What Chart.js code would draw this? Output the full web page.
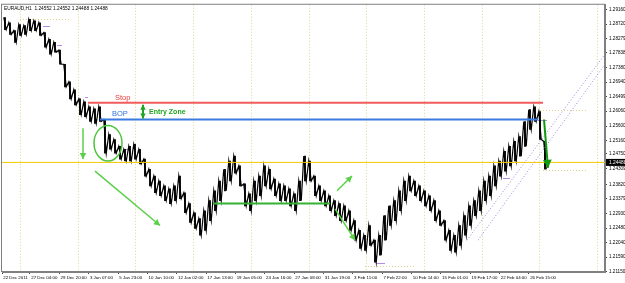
<!DOCTYPE html>
<html>
<head>
<meta charset="utf-8">
<script src="https://cdn.jsdelivr.net/npm/chart.js@4.4.1/dist/chart.umd.min.js"></script>
<style>
  html, body { margin: 0; padding: 0; background: #fff; }
  canvas { display: block; }
</style>
</head>
<body>
<canvas id="myChart" width="625" height="283"></canvas>
<script>
const ctx = document.getElementById("myChart").getContext("2d");

// chart header and bid
const symbolInfo = "EURAUD,H1  1.24552 1.24552 1.24488 1.24488";
const lastPrice = 1.24488;

// time axis labels (one every few bars)
const timeLabels = [
    "22 Dec 2011", "27 Dec 04:00", "29 Dec 20:00", "3 Jan 07:00", "5 Jan 23:00",
    "10 Jan 10:00", "12 Jan 02:00", "17 Jan 13:00", "19 Jan 05:00", "24 Jan 16:00",
    "27 Jan 08:00", "31 Jan 19:00", "3 Feb 11:00", "7 Feb 22:00", "10 Feb 14:00",
    "15 Feb 01:00", "19 Feb 17:00", "22 Feb 04:00", "26 Feb 15:00",
];

// price axis labels
const priceLabels = [
    "1.29160", "1.28720", "1.28279", "1.27838", "1.27380", "1.26940", "1.26499",
    "1.26060", "1.25600", "1.25160", "1.24750", "1.24309", "1.23820", "1.23379",
    "1.22930", "1.22480", "1.22040", "1.21590", "1.21150",
];

// highs / lows of the H1 bars, sampled every few bars
const highs = [
    1.2892, 1.2876, 1.2852, 1.2870, 1.2867, 1.2886, 1.2882, 1.2876, 1.2846, 1.2825,
    1.2816, 1.2792, 1.2749, 1.2695, 1.2671, 1.2643, 1.2634, 1.2619, 1.2613, 1.2619,
    1.2580, 1.2534, 1.2519, 1.2498, 1.2489, 1.2498, 1.2504, 1.2489, 1.2459, 1.2428,
    1.2407, 1.2392, 1.2377, 1.2368, 1.2377, 1.2407, 1.2356, 1.2323, 1.2295, 1.2277,
    1.2301, 1.2332, 1.2362, 1.2392, 1.2428, 1.2453, 1.2468, 1.2438, 1.2383, 1.2353,
    1.2392, 1.2407, 1.2438, 1.2428, 1.2398, 1.2383, 1.2377, 1.2368, 1.2353, 1.2392,
    1.2468, 1.2453, 1.2407, 1.2377, 1.2362, 1.2347, 1.2332, 1.2323, 1.2316, 1.2301,
    1.2271, 1.2241, 1.2226, 1.2256, 1.2211, 1.2226, 1.2286, 1.2316, 1.2332, 1.2362,
    1.2392, 1.2407, 1.2392, 1.2377, 1.2362, 1.2347, 1.2332, 1.2301, 1.2271, 1.2241,
    1.2226, 1.2256, 1.2286, 1.2316, 1.2332, 1.2362, 1.2392, 1.2407, 1.2438, 1.2453,
    1.2483, 1.2498, 1.2513, 1.2528, 1.2574, 1.2610, 1.2619, 1.2604, 1.2513,
];
const lows = [
    1.2855, 1.2840, 1.2816, 1.2837, 1.2840, 1.2852, 1.2852, 1.2837, 1.2801, 1.2780,
    1.2786, 1.2749, 1.2680, 1.2643, 1.2625, 1.2595, 1.2589, 1.2574, 1.2568, 1.2574,
    1.2477, 1.2489, 1.2477, 1.2459, 1.2453, 1.2453, 1.2459, 1.2444, 1.2407, 1.2377,
    1.2356, 1.2347, 1.2332, 1.2323, 1.2332, 1.2338, 1.2295, 1.2265, 1.2247, 1.2226,
    1.2241, 1.2271, 1.2301, 1.2332, 1.2362, 1.2392, 1.2416, 1.2377, 1.2316, 1.2301,
    1.2332, 1.2347, 1.2377, 1.2368, 1.2347, 1.2332, 1.2332, 1.2316, 1.2301, 1.2332,
    1.2392, 1.2392, 1.2347, 1.2332, 1.2316, 1.2301, 1.2286, 1.2271, 1.2271, 1.2241,
    1.2211, 1.2186, 1.2180, 1.2195, 1.2144, 1.2165, 1.2211, 1.2256, 1.2271, 1.2301,
    1.2332, 1.2362, 1.2347, 1.2332, 1.2316, 1.2301, 1.2271, 1.2256, 1.2211, 1.2180,
    1.2174, 1.2195, 1.2226, 1.2256, 1.2286, 1.2301, 1.2332, 1.2347, 1.2377, 1.2407,
    1.2422, 1.2438, 1.2453, 1.2468, 1.2498, 1.2550, 1.2574, 1.2519, 1.2428,
];

// drawn objects: [xFrom, xTo, priceFrom, priceTo]
const stopLine = [17.6, 108.6, 1.2631, 1.2631];
const bopLine = [20, 107.6, 1.2580, 1.2580];
const rangeLine = [42.6, 66, 1.2323, 1.2323];
const channelUpper = [93.4, 121, 1.2211, 1.2780];
const channelLower = [95.6, 121, 1.2211, 1.2749];

// arrows: [xFrom, priceFrom, xTo, priceTo]
const lightArrows = [
    [16.6, 1.2553, 16.6, 1.2459],
    [19, 1.2422, 32, 1.2256],
    [67, 1.2307, 71, 1.2211],
    [67.4, 1.2362, 70.4, 1.2407],
];
const exitArrow = [108.8, 1.2580, 109.6, 1.2432];
const zoneArrow = [28.6, 1.2625, 28.6, 1.2583];
// circled bars: [xFrom, xTo, priceTop, priceBottom]
const circleBox = [18.8, 24.4, 1.2562, 1.2453];

// little indicator levels: [xFrom, xTo, price]
const yellowMarks = [
    [4, 14, 1.2886], [108, 117.6, 1.2610], [108.6, 117.6, 1.2425], [73, 83, 1.2132],
];
const violetMarks = [
    [8.6, 10, 1.2867], [11.4, 12.4, 1.2807], [17, 17.6, 1.2649], [25, 26, 1.2489],
    [107.6, 109.4, 1.2580], [75.4, 77, 1.2141], [100.6, 102, 1.2401],
];

const pricePath = [];
const priceRanges = [];
highs.forEach((h, i) => {
    pricePath.push({ x: i + 0.75, y: h });
    pricePath.push({ x: i + 1.25, y: lows[i] });
    priceRanges.push({ x: i + 1, y: [lows[i], h] });
});

const seg = (s, color, width, dash) => ({
    data: [{ x: s[0], y: s[2] }, { x: s[1], y: s[3] }],
    borderColor: color,
    borderWidth: width,
    borderDash: dash || [],
    pointRadius: 0,
    order: 1,
});

function drawArrow(c, x1, y1, x2, y2, color, width, head, both) {
    c.save();
    c.strokeStyle = color;
    c.fillStyle = color;
    c.lineWidth = width;
    c.beginPath();
    c.moveTo(x1, y1);
    c.lineTo(x2, y2);
    c.stroke();
    const tip = (ax, ay, bx, by) => {
        const a = Math.atan2(by - ay, bx - ax);
        c.beginPath();
        c.moveTo(bx, by);
        c.lineTo(bx - head * Math.cos(a) + head * 0.55 * Math.sin(a), by - head * Math.sin(a) - head * 0.55 * Math.cos(a));
        c.lineTo(bx - head * Math.cos(a) - head * 0.55 * Math.sin(a), by - head * Math.sin(a) + head * 0.55 * Math.cos(a));
        c.closePath();
        c.fill();
    };
    tip(x1, y1, x2, y2);
    if (both) tip(x2, y2, x1, y1);
    c.restore();
}

const objectsPlugin = {
    id: "objects",
    beforeDatasetsDraw(chart) {
        const c = chart.ctx;
        const xs = chart.scales.x, ys = chart.scales.y;
        const area = chart.chartArea;
        c.save();
        // grid
        c.strokeStyle = "#ddd48c";
        c.lineWidth = 1;
        c.setLineDash([1, 2]);
        for (let v = 4; v < 121; v += 11.54) {
            const x = Math.round(xs.getPixelForValue(v)) + 0.5;
            c.beginPath();
            c.moveTo(x, area.top);
            c.lineTo(x, area.bottom);
            c.stroke();
        }
        yellowMarks.forEach(m => {
            const y = Math.round(ys.getPixelForValue(m[2])) + 0.5;
            c.beginPath();
            c.moveTo(xs.getPixelForValue(m[0]), y);
            c.lineTo(xs.getPixelForValue(m[1]), y);
            c.stroke();
        });
        c.setLineDash([]);
        c.strokeStyle = "#b58be8";
        violetMarks.forEach(m => {
            const y = Math.round(ys.getPixelForValue(m[2])) + 0.5;
            c.beginPath();
            c.moveTo(xs.getPixelForValue(m[0]), y);
            c.lineTo(xs.getPixelForValue(m[1]), y);
            c.stroke();
        });
        // frame
        c.strokeStyle = "#808080";
        c.strokeRect(area.left - 0.5, area.top - 0.5, area.right - area.left, area.bottom - area.top);
        c.restore();
    },
    afterDatasetsDraw(chart) {
        const c = chart.ctx;
        const xs = chart.scales.x, ys = chart.scales.y;
        const area = chart.chartArea;
        const X = v => xs.getPixelForValue(v);
        const Y = v => ys.getPixelForValue(v);

        lightArrows.forEach(a => drawArrow(c, X(a[0]), Y(a[1]), X(a[2]), Y(a[3]), "#5ccf4a", 1.5, 6));
        drawArrow(c, X(exitArrow[0]), Y(exitArrow[1]), X(exitArrow[2]), Y(exitArrow[3]), "#109a10", 2, 8);
        drawArrow(c, X(zoneArrow[0]), Y(zoneArrow[1]), X(zoneArrow[2]), Y(zoneArrow[3]), "#1fa51f", 2, 5, true);

        c.save();
        c.strokeStyle = "#4cc43c";
        c.lineWidth = 1.5;
        const cx = (X(circleBox[0]) + X(circleBox[1])) / 2;
        const cy = (Y(circleBox[2]) + Y(circleBox[3])) / 2;
        c.beginPath();
        c.ellipse(cx, cy, (X(circleBox[1]) - X(circleBox[0])) / 2, (Y(circleBox[3]) - Y(circleBox[2])) / 2, 0, 0, Math.PI * 2);
        c.stroke();

        c.textBaseline = "middle";
        c.textAlign = "left";
        c.font = "7.5px 'Liberation Sans'";
        c.fillStyle = "#ee3c3c";
        c.fillText("Stop", X(23), Y(1.2646));
        c.fillStyle = "#2f72dc";
        c.fillText("BOP", X(22.4), Y(1.2598));
        c.font = "bold 7px 'Liberation Sans'";
        c.fillStyle = "#1fa51f";
        c.fillText("Entry Zone", X(29.8), Y(1.2604));

        c.font = "4.8px 'Liberation Sans'";
        c.fillStyle = "#000";
        c.fillText(symbolInfo, area.left + 2, area.top + 4);

        // bid box on the price axis
        const by = Y(lastPrice);
        c.fillRect(area.right + 1, by - 3.5, 20, 7);
        c.fillStyle = "#fff";
        c.fillText(lastPrice.toFixed(5), area.right + 4, by);
        c.restore();
    },
};

const config = {
    type: "line",
    data: {
        datasets: [
            seg(bopLine, "#3b7be0", 2),
            seg(stopLine, "#f25c5c", 2),
            seg(rangeLine, "#33b233", 2),
            seg(channelUpper, "#9a86e6", 1, [1, 2]),
            seg(channelLower, "#9a86e6", 1, [1, 2]),
            seg([0.4, 121, lastPrice, lastPrice], "#f2c800", 1),
            {
                data: pricePath,
                borderColor: "#000",
                borderWidth: 1.2,
                pointRadius: 0,
                tension: 0,
                order: 5,
            },
            {
                type: "bar",
                data: priceRanges,
                backgroundColor: "#000",
                barThickness: 1.2,
                order: 6,
            },
        ],
    },
    options: {
        responsive: false,
        devicePixelRatio: 1,
        animation: false,
        layout: { padding: { left: 2, top: 2, right: 0, bottom: 0 } },
        plugins: { legend: { display: false }, tooltip: { enabled: false } },
        scales: {
            x: {
                type: "linear",
                min: 0.4,
                max: 121,
                offset: false,
                afterBuildTicks: (axis) => {
                    axis.ticks = timeLabels.map((l, i) => ({ value: Math.max(0.4, 0.13 + 5.87 * i) }));
                },
                afterFit: (axis) => { axis.height = 11; },
                grid: { drawOnChartArea: false, offset: false, tickLength: 2, color: "#444" },
                border: { color: "#808080" },
                ticks: {
                    autoSkip: false,
                    maxRotation: 0,
                    minRotation: 0,
                    align: "start",
                    padding: 1,
                    color: "#000",
                    font: { family: "Liberation Sans", size: 4.4 },
                    callback: (value, index) => " " + timeLabels[index],
                },
            },
            y: {
                position: "right",
                min: 1.21137,
                max: 1.29309,
                afterBuildTicks: (axis) => {
                    axis.ticks = priceLabels.map(s => ({ value: parseFloat(s) }));
                },
                afterFit: (axis) => { axis.width = 20; },
                grid: { drawOnChartArea: false, tickLength: 2, color: "#444" },
                border: { color: "#808080" },
                ticks: {
                    padding: 2,
                    color: "#000",
                    font: { family: "Liberation Sans", size: 4.6 },
                    callback: (value, index) => priceLabels[index],
                },
            },
        },
    },
    plugins: [objectsPlugin],
};

const myChart = new Chart(ctx, config);
</script>
</body>
</html>
